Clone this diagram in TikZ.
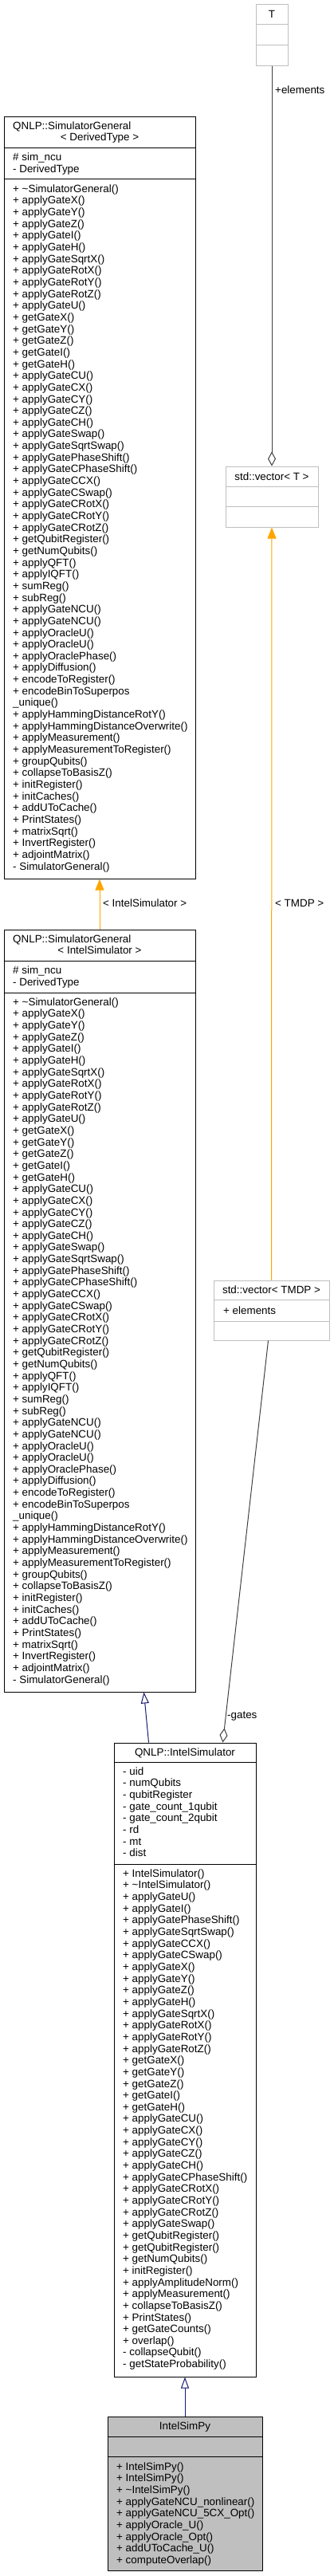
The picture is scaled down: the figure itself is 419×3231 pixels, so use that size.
\documentclass[tikz,border=0pt]{standalone}
\usepackage{fontspec}
\setmainfont{Liberation Sans}
\usetikzlibrary{arrows.meta,calc}
\definecolor{grey75}{RGB}{191,191,191}
\definecolor{grey25}{RGB}{64,64,64}
\definecolor{dorange}{RGB}{255,165,0}
\definecolor{mblue}{RGB}{25,25,112}
\newcommand{\txtlines}[4]{%
  \foreach \t [count=\i from 0] in #4 {
    \node[txt] (#1\i) at (#2, #3+\i*14.65) {\t};
  }%
}
\newcommand{\sepline}[3]{%
  \draw[draw=#3, line width=1pt] ($(#1.north west)+(0,#2)$) -- ($(#1.north east)+(0,#2)$);%
}
\def\sgmethods{+ \textasciitilde SimulatorGeneral(), + applyGateX(), + applyGateY(), + applyGateZ(), + applyGateI(), + applyGateH(), + applyGateSqrtX(), + applyGateRotX(), + applyGateRotY(), + applyGateRotZ(), + applyGateU(), + getGateX(), + getGateY(), + getGateZ(), + getGateI(), + getGateH(), + applyGateCU(), + applyGateCX(), + applyGateCY(), + applyGateCZ(), + applyGateCH(), + applyGateSwap(), + applyGateSqrtSwap(), + applyGatePhaseShift(), + applyGateCPhaseShift(), + applyGateCCX(), + applyGateCSwap(), + applyGateCRotX(), + applyGateCRotY(), + applyGateCRotZ(), + getQubitRegister(), + getNumQubits(), + applyQFT(), + applyIQFT(), + sumReg(), + subReg(), + applyGateNCU(), + applyGateNCU(), + applyOracleU(), + applyOracleU(), + applyOraclePhase(), + applyDiffusion(), + encodeToRegister(), + encodeBinToSuperpos, \_unique(), + applyHammingDistanceRotY(), + applyHammingDistanceOverwrite(), + applyMeasurement(), + applyMeasurementToRegister(), + groupQubits(), + collapseToBasisZ(), + initRegister(), + initCaches(), + addUToCache(), + PrintStates(), + matrixSqrt(), + InvertRegister(), + adjointMatrix(), - SimulatorGeneral()}
\def\ismethods{+ IntelSimulator(), + \textasciitilde IntelSimulator(), + applyGateU(), + applyGateI(), + applyGatePhaseShift(), + applyGateSqrtSwap(), + applyGateCCX(), + applyGateCSwap(), + applyGateX(), + applyGateY(), + applyGateZ(), + applyGateH(), + applyGateSqrtX(), + applyGateRotX(), + applyGateRotY(), + applyGateRotZ(), + getGateX(), + getGateY(), + getGateZ(), + getGateI(), + getGateH(), + applyGateCU(), + applyGateCX(), + applyGateCY(), + applyGateCZ(), + applyGateCH(), + applyGateCPhaseShift(), + applyGateCRotX(), + applyGateCRotY(), + applyGateCRotZ(), + applyGateSwap(), + getQubitRegister(), + getQubitRegister(), + getNumQubits(), + initRegister(), + applyAmplitudeNorm(), + applyMeasurement(), + collapseToBasisZ(), + PrintStates(), + getGateCounts(), + overlap(), - collapseQubit(), - getStateProbability()}
\def\isattrs{- uid, - numQubits, - qubitRegister, - gate\_count\_1qubit, - gate\_count\_2qubit, - rd, - mt, - dist}
\def\ispmethods{+ IntelSimPy(), + IntelSimPy(), + \textasciitilde IntelSimPy(), + applyGateNCU\_nonlinear(), + applyGateNCU\_5CX\_Opt(), + applyOracle\_U(), + applyOracle\_Opt(), + addUToCache\_U(), + computeOverlap()}
\def\sgattrs{\# sim\_ncu, - DerivedType}
\begin{document}
\begin{tikzpicture}[x=1pt,y=-1pt,
  clsbox/.style={draw=black, line width=1pt, inner sep=0pt, fill=white},
  tmplbox/.style={draw=grey75, line width=1pt, inner sep=0pt, fill=white},
  txt/.style={inner sep=0pt, font=\fontsize{13.4}{14.65}\selectfont, anchor=base west},
  ctxt/.style={txt, anchor=base},
  inh/.style={draw=mblue, line width=1pt, -{Triangle[open, length=14pt, width=10pt]}},
  tmpl/.style={draw=dorange, line width=1pt, -{Triangle[length=14pt, width=11pt]}},
  agg/.style={draw=grey25, line width=1pt, -{Diamond[open, length=18pt, width=10pt]}},
]
\useasboundingbox (0,0) rectangle (419,3231);

% ---- boxes
\node[tmplbox, minimum width=40pt, minimum height=77pt] (tt) at (341,43.5) {};
\node[tmplbox, minimum width=116pt, minimum height=76pt] (vt) at (341,623) {};
\node[tmplbox, minimum width=145pt, minimum height=75pt] (vtm) at (340.5,1643.5) {};
\node[clsbox, minimum width=240pt, minimum height=956pt] (sg1) at (125,624) {};
\node[clsbox, minimum width=240pt, minimum height=956pt] (sg2) at (125,1644) {};
\node[clsbox, minimum width=178pt, minimum height=795pt] (is) at (232,2583.5) {};
\node[clsbox, fill=grey75, minimum width=194pt, minimum height=193pt] (isp) at (232,3127.5) {};

% ---- separators
\sepline{tt}{26}{grey75}
\sepline{tt}{52}{grey75}
\sepline{vt}{26}{grey75}
\sepline{vt}{51}{grey75}
\sepline{vtm}{25}{grey75}
\sepline{vtm}{52}{grey75}
\sepline{sg1}{40}{black}
\sepline{sg1}{79}{black}
\sepline{sg2}{40}{black}
\sepline{sg2}{80}{black}
\sepline{is}{25}{black}
\sepline{is}{153}{black}
\sepline{isp}{26}{black}
\sepline{isp}{51}{black}

% ---- texts
\node[ctxt] (ttt) at (341,22) {T};
\node[ctxt] (vtt) at (341,602.3) {std::vector< T >};
\node[ctxt] (vtmt) at (340.5,1622.3) {std::vector< TMDP >};
\node[txt] (vtma) at (280,1648.3) {+ elements};

\node[txt] (sg1t) at (16,162.3) {QNLP::SimulatorGeneral};
\node[ctxt] (sg1u) at (125,176.3) {< DerivedType >};
\txtlines{sgonea}{16}{201.8}{\sgattrs}
\txtlines{sgonem}{16}{241.3}{\sgmethods}

\node[txt] (sg2t) at (16,1182.3) {QNLP::SimulatorGeneral};
\node[ctxt] (sg2u) at (125,1196.3) {< IntelSimulator >};
\txtlines{sgtwoa}{16}{1221.8}{\sgattrs}
\txtlines{sgtwom}{16}{1261.3}{\sgmethods}

\node[ctxt] (ist) at (232,2202.3) {QNLP::IntelSimulator};
\txtlines{isa}{154}{2226.3}{\isattrs}
\txtlines{ism}{154}{2354.3}{\ismethods}

\node[ctxt] (ispt) at (232,3047.3) {IntelSimPy};
\txtlines{ispm}{146}{3098.3}{\ispmethods}

% ---- edges
\draw[agg] (tt.south) -- (vt.north);
\node[txt] (lel) at (345,117) {+elements};
\draw[tmpl] ($(vtm.north west)+(73,0)$) -- (vt.south);
\node[txt] (ltmdp) at (345,1137) {< TMDP >};
\draw[tmpl] (sg2.north) -- (sg1.south);
\node[txt] (lis) at (129,1137.5) {< IntelSimulator >};
\draw[inh] ($(is.north west)+(44,0)$) -- ($(sg2.south west)+(176,0)$);
\draw[agg] ($(vtm.south west)+(69,0)$) -- ($(is.north west)+(137,0)$);
\node[txt] (lgates) at (285,2155) {-gates};
\draw[inh] (isp.north) -- (is.south);
\end{tikzpicture}
\end{document}
